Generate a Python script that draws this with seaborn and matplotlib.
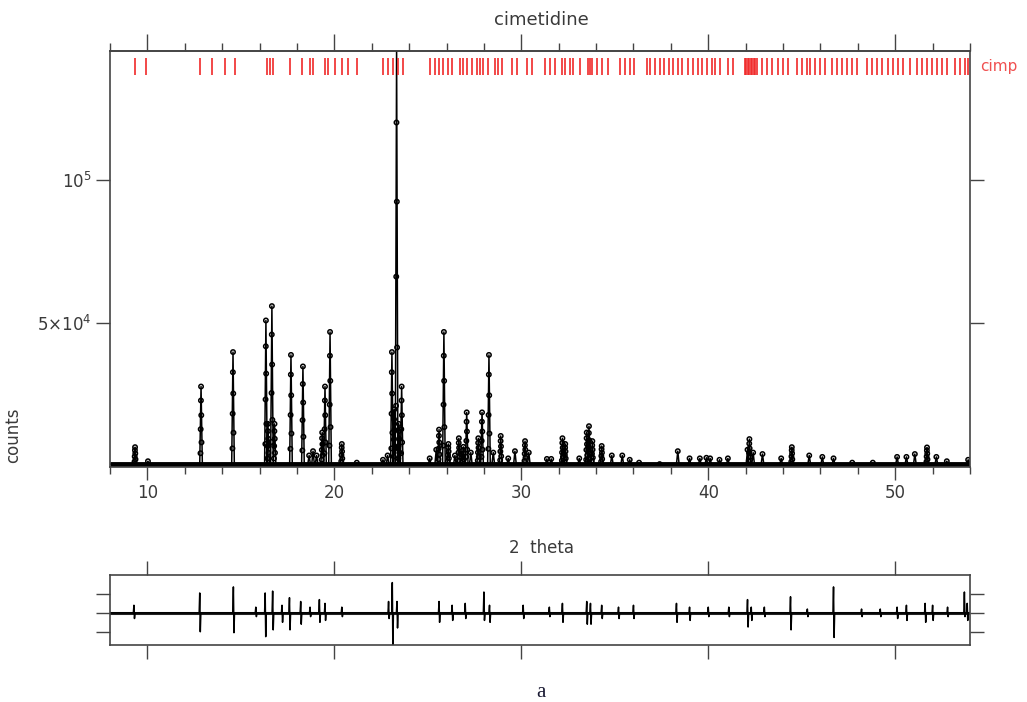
import numpy as np
import pandas as pd
import seaborn as sns
import matplotlib.pyplot as plt
from matplotlib.ticker import MultipleLocator

#=====================
# Data
#=====================

# observed peaks: 2theta position and peak counts
peak_pos = [9.34, 10.03, 12.87, 14.58, 16.34, 16.45, 16.66, 16.80, 17.68, 18.32,
            18.65, 18.86, 19.05, 19.35, 19.50, 19.77, 20.40, 21.20, 22.60, 22.85,
            23.08, 23.20, 23.33, 23.45, 23.60, 25.10, 25.45, 25.60, 25.86, 26.10,
            26.45, 26.66, 26.90, 27.08, 27.30, 27.70, 27.90, 28.27, 28.50, 28.90,
            29.30, 29.66, 30.20, 30.40, 31.37, 31.60, 32.20, 32.35, 33.10, 33.50,
            33.62, 33.80, 34.30, 34.84, 35.40, 35.80, 36.30, 37.40, 38.37, 39.00,
            39.55, 39.90, 40.10, 40.60, 41.05, 42.10, 42.20, 42.40, 42.90, 43.90,
            44.47, 45.40, 46.10, 46.70, 47.70, 48.80, 50.10, 50.60, 51.05, 51.70,
            52.20, 52.76, 53.90]
peak_counts = [6900, 2000, 28000, 40000, 51000, 15000, 56000, 15000, 39000, 35000,
               4000, 5500, 4000, 12000, 28000, 47000, 8000, 1500, 2500, 4000,
               40000, 20000, 146000, 15000, 28000, 3000, 6000, 13000, 47000, 8000,
               4000, 10000, 7000, 19000, 5000, 10000, 19000, 39000, 5000, 10800,
               3000, 5500, 9000, 5000, 2800, 2800, 10000, 8000, 3000, 12000,
               14200, 9000, 7300, 4000, 4000, 2500, 1500, 1000, 5500, 3000,
               3000, 3200, 3000, 2500, 3000, 6000, 9700, 5000, 4500, 3000,
               6900, 4000, 3500, 3000, 1500, 1500, 3500, 3500, 4500, 6800,
               3500, 2000, 2500]
background = 1000
# relative heights of the observed steps seen on the flanks of the peaks
flank_levels = [0.82, 0.63, 0.45, 0.28, 0.14]

# reflection markers of phase "cimp"
refl_pos = [9.34, 9.93, 12.81, 13.45, 14.15, 14.68, 16.40, 16.55, 16.70, 17.63,
            18.27, 18.70, 18.86, 19.50, 19.65, 20.03, 20.40, 20.73, 21.20, 22.60,
            22.87, 23.13, 23.40, 23.67, 25.11, 25.38, 25.59, 25.81, 26.07, 26.29,
            26.72, 26.88, 27.09, 27.36, 27.63, 27.79, 27.95, 28.21, 28.59, 28.75,
            28.96, 29.50, 29.76, 30.30, 30.57, 31.26, 31.53, 31.80, 32.17, 32.33,
            32.60, 32.76, 33.13, 33.56, 33.67, 33.78, 34.04, 34.31, 34.63, 35.27,
            35.54, 35.81, 36.02, 36.72, 36.88, 37.14, 37.41, 37.63, 37.89, 38.11,
            38.37, 38.59, 38.91, 39.18, 39.44, 39.66, 39.93, 40.20, 40.35, 40.62,
            41.05, 41.32, 41.96, 42.04, 42.12, 42.20, 42.28, 42.36, 42.44, 42.52,
            42.60, 42.87, 43.13, 43.40, 43.72, 43.99, 44.26, 44.74, 45.00, 45.27,
            45.43, 45.70, 45.97, 46.24, 46.61, 46.88, 47.14, 47.41, 47.68, 47.95,
            48.48, 48.75, 49.02, 49.28, 49.60, 49.87, 50.14, 50.41, 50.78, 51.16,
            51.42, 51.69, 51.96, 52.22, 52.49, 52.76, 53.19, 53.45, 53.72, 53.90]

# difference curve spikes (obs - calc), in units of the difference-panel ticks
diff_pos = [9.28, 12.80, 14.60, 15.80, 16.30, 16.70, 17.20, 17.60, 18.20, 18.70,
            19.20, 19.50, 20.40, 22.90, 23.10, 23.35, 25.60, 26.30, 27.00, 28.00,
            28.30, 30.10, 31.50, 32.20, 33.50, 33.70, 34.30, 35.20, 36.00, 38.30,
            39.00, 40.00, 41.10, 42.10, 42.30, 43.00, 44.40, 45.30, 46.70, 48.20,
            49.20, 50.10, 50.60, 51.60, 52.00, 52.80, 53.70, 53.85]
diff_up = [0.4, 1.05, 1.37, 0.3, 1.05, 1.15, 0.4, 0.8, 0.6, 0.3,
           0.7, 0.5, 0.3, 0.6, 1.6, 0.6, 0.6, 0.4, 0.5, 1.1,
           0.4, 0.4, 0.3, 0.5, 0.6, 0.5, 0.4, 0.3, 0.4, 0.5,
           0.3, 0.3, 0.3, 0.7, 0.3, 0.3, 0.85, 0.2, 1.37, 0.2,
           0.2, 0.3, 0.4, 0.5, 0.4, 0.3, 1.1, 0.5]
diff_down = [-0.3, -1.0, -1.05, -0.2, -1.26, -0.9, -0.5, -0.9, -0.6, -0.2,
             -0.5, -0.4, -0.2, -0.3, -1.8, -0.8, -0.5, -0.4, -0.3, -0.4,
             -0.5, -0.3, -0.2, -0.5, -0.6, -0.6, -0.3, -0.3, -0.3, -0.5,
             -0.4, -0.2, -0.2, -0.75, -0.4, -0.2, -0.9, -0.2, -1.3, -0.2,
             -0.2, -0.3, -0.4, -0.5, -0.4, -0.2, -0.2, -0.4]

x_min, x_max = 8, 54

#=====================
# Build the plotted series from the peak lists
#=====================

half = 0.07
calc_x, calc_y = [x_min], [background]
obs_x, obs_y = list(peak_pos), list(peak_counts)
for p, h in sorted(zip(peak_pos, peak_counts)):
    calc_x += [p - half, p, p + half]
    calc_y += [background, h, background]
    if h > 6000:
        for f in flank_levels:
            side = -1 if f in flank_levels[::2] else 1
            obs_x.append(p + side * half * (1 - f) * 0.5)
            obs_y.append(background + f * (h - background))
calc_x.append(x_max)
calc_y.append(background)
calc = pd.DataFrame({'2theta': calc_x, 'counts': calc_y})
obs = pd.DataFrame({'2theta': obs_x, 'counts': obs_y})

dx, dy = [x_min], [0]
for p, u, d in sorted(zip(diff_pos, diff_up, diff_down)):
    dx += [p - 0.03, p, p + 0.03, p + 0.06]
    dy += [0, u, d, 0]
dx.append(x_max)
dy.append(0)
diff = pd.DataFrame({'2theta': dx, 'diff': dy})

#=====================
# Plot
#=====================

sns.set_theme(style='white')
plt.rcParams['font.family'] = ['DejaVu Sans']
txt = '#3a3a3a'
spine = '#444444'

fig = plt.figure(figsize=(10.27, 7.02), dpi=100)
ax = fig.add_axes([0.1071, 0.3348, 0.8374, 0.5926])
axd = fig.add_axes([0.1071, 0.0812, 0.8374, 0.0997])

# main panel
sns.lineplot(data=calc, x='2theta', y='counts', sort=False, estimator=None,
             color='black', lw=1.1, ax=ax)
ax.plot([x_min, x_max], [background, background], color='black', lw=3.5,
        solid_capstyle='butt')
sns.scatterplot(data=obs, x='2theta', y='counts', marker='o', s=10,
                facecolor='none', edgecolor='black', linewidth=1.1, ax=ax)
ax.vlines(refl_pos, 0.943, 0.983, transform=ax.get_xaxis_transform(),
          color='#f02828', lw=1.4, alpha=0.85)

ax.set_xlim(x_min, x_max)
ax.set_ylim(0, 144800)
ax.xaxis.set_major_locator(MultipleLocator(10))
ax.xaxis.set_minor_locator(MultipleLocator(2))
ax.set_yticks([5e4, 1e5])
ax.set_yticklabels([r'$5{\times}10^4$', r'$10^5$'])
ax.tick_params(axis='x', which='major', direction='out', length=9, width=1,
               color=spine, labelsize=12, labelcolor=txt, bottom=True)
ax.tick_params(axis='x', which='minor', direction='out', length=5, width=1,
               color=spine, bottom=True)
ax.tick_params(axis='y', direction='out', length=10, width=1, color=spine,
               labelsize=12, labelcolor=txt, left=True, right=True)
top = ax.secondary_xaxis('top')
top.xaxis.set_major_locator(MultipleLocator(10))
top.xaxis.set_minor_locator(MultipleLocator(2))
top.tick_params(which='major', direction='out', length=12, width=1, color=spine,
                labeltop=False)
top.tick_params(which='minor', direction='out', length=6, width=1, color=spine)
for s in top.spines.values():
    s.set_color(spine)
for s in ax.spines.values():
    s.set_color(spine)
    s.set_linewidth(1.2)
ax.set_xlabel('')
ax.set_ylabel('counts', fontsize=12, color=txt)
ax.yaxis.set_label_coords(-0.102, 0.077)

# difference panel
axd.axhline(0, color='#888888', lw=1.0)
axd.plot([x_min, x_max], [0, 0], color='black', lw=2.2, alpha=0.85)
sns.lineplot(data=diff, x='2theta', y='diff', sort=False, estimator=None,
             color='black', lw=1.1, ax=axd)
axd.set_xlim(x_min, x_max)
axd.set_ylim(-1.7, 2.0)
axd.xaxis.set_major_locator(MultipleLocator(10))
axd.set_yticks([-1, 0, 1])
axd.tick_params(axis='x', direction='out', length=10, width=1, color=spine,
                bottom=True, top=True, labelbottom=False)
axd.tick_params(axis='y', direction='out', length=10, width=1, color=spine,
                left=True, right=True, labelleft=False)
for s in axd.spines.values():
    s.set_color(spine)
    s.set_linewidth(1.2)
axd.set_xlabel('')
axd.set_ylabel('')

# texts
fig.text(0.527, 0.9715, 'cimetidine', ha='center', va='center', fontsize=13, color=txt)
fig.text(0.954, 0.9046, 'cimp', ha='left', va='center', fontsize=11, color='#f05050')
fig.text(0.527, 0.219, '2  theta', ha='center', va='center', fontsize=12, color=txt)
fig.text(0.527, 0.0142, 'a', ha='center', va='center', fontsize=15,
         color='#1a1a33', family=['Liberation Serif'])

fig.savefig('out.png', dpi=100)
